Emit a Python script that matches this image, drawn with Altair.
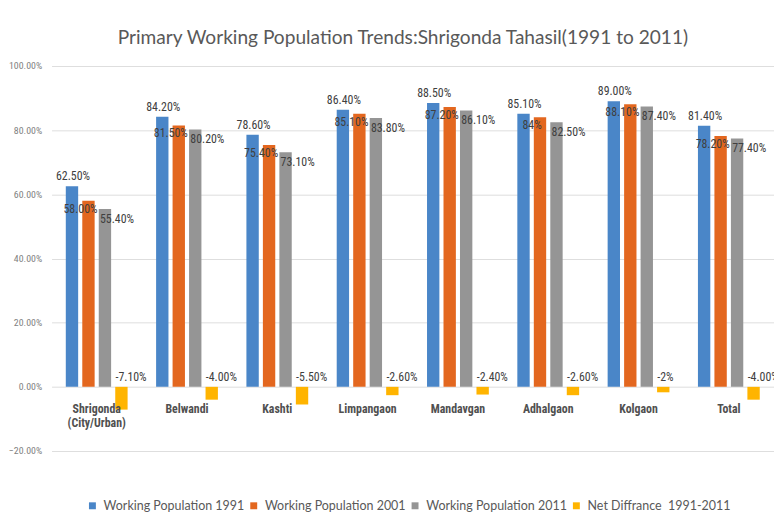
import altair as alt
import pandas as pd

categories = ["Shrigonda|(City/Urban)", "Belwandi", "Kashti", "Limpangaon",
              "Mandavgan", "Adhalgaon", "Kolgaon", "Total"]
series = ["Working Population 1991", "Working Population 2001",
          "Working Population 2011", "Net Diffrance\u00a0 1991-2011"]
colors = ["#4a86c8", "#e3671f", "#959595", "#ffb400"]

wp1991 = [62.5, 84.2, 78.6, 86.4, 88.5, 85.1, 89.0, 81.4]
wp2001 = [58.0, 81.5, 75.4, 85.1, 87.2, 84.0, 88.1, 78.2]
wp2011 = [55.4, 80.2, 73.1, 83.8, 86.1, 82.5, 87.4, 77.4]
net = [-7.1, -4.0, -5.5, -2.6, -2.4, -2.6, -1.7, -4.0]

lab1991 = ["62.50%", "84.20%", "78.60%", "86.40%", "88.50%", "85.10%", "89.00%", "81.40%"]
lab2001 = ["58.00%", "81.50%", "75.40%", "85.10%", "87.20%", "84%", "88.10%", "78.20%"]
lab2011 = ["55.40%", "80.20%", "73.10%", "83.80%", "86.10%", "82.50%", "87.40%", "77.40%"]
labnet = ["-7.10%", "-4.00%", "-5.50%", "-2.60%", "-2.40%", "-2.60%", "-2%", "-4.00%"]

rows = []
for vals, labs, s in zip([wp1991, wp2001, wp2011, net],
                         [lab1991, lab2001, lab2011, labnet], series):
    for c, v, l in zip(categories, vals, labs):
        rows.append({"cat": c, "series": s, "value": v, "label": l, "zero": 0})
df = pd.DataFrame(rows)
cat_df = pd.DataFrame({"cat": categories, "zero": [0] * len(categories)})

NARROW = "Liberation Sans Narrow, Roboto Condensed, Liberation Sans, sans-serif"

xscale = alt.Scale(paddingInner=0.27, paddingOuter=0.135)
xenc = alt.X("cat:N", sort=categories, axis=None, scale=xscale)
xoff = alt.XOffset("series:N", sort=series,
                   scale=alt.Scale(domain=series, paddingInner=0.25, paddingOuter=0.125))
yscale = alt.Scale(domain=[-20, 100], nice=False)
yaxis = alt.Axis(values=[-20, 0, 20, 40, 60, 80, 100],
                 labelExpr="format(datum.value, '.2f') + '%'",
                 domain=False, ticks=False, labelPadding=10,
                 labelFontSize=10, labelColor="#7f7f7f", labelFont=NARROW,
                 gridColor="#dedede", gridWidth=1)

def yenc(field):
    return alt.Y(f"{field}:Q", scale=yscale, title=None, axis=yaxis)

base = alt.Chart(df)

bars = base.mark_bar().encode(
    x=xenc, xOffset=xoff,
    y=yenc("value"),
    color=alt.Color("series:N", sort=series,
                    scale=alt.Scale(domain=series, range=colors),
                    legend=alt.Legend(title=None, orient="none", legendX=35, legendY=438,
                                      direction="horizontal", symbolType="square",
                                      symbolSize=49, symbolStrokeWidth=0,
                                      labelFontSize=12.6, labelColor="#595959",
                                      labelFont="Lato", columnPadding=3,
                                      labelOffset=5, labelLimit=0)),
)

def lbl(sname, **kw):
    return base.transform_filter(alt.datum.series == sname).mark_text(
        font=NARROW, fontSize=12, color="#404040", **kw)

t1991 = lbl(series[0], align="center", baseline="bottom", dy=-3, dx=1).encode(
    x=xenc, xOffset=xoff, y=yenc("value"), text="label:N")
t2001 = lbl(series[1], align="center", baseline="middle", dy=8, dx=-8).encode(
    x=xenc, xOffset=xoff, y=yenc("value"), text="label:N")
t2011 = lbl(series[2], align="left", baseline="middle", dy=10, dx=-5).encode(
    x=xenc, xOffset=xoff, y=yenc("value"), text="label:N")
tnet = lbl(series[3], align="left", baseline="bottom", dy=-3, dx=-6).encode(
    x=xenc, xOffset=xoff, y=yenc("zero"), text="label:N")

catlabels = alt.Chart(cat_df).mark_text(
    font=NARROW, fontSize=12, fontWeight="bold", color="#505050",
    baseline="top", dy=17, lineBreak="|", lineHeight=15).encode(
    x=alt.X("cat:N", sort=categories, axis=None, scale=xscale),
    y=yenc("zero"), text="cat:N")

chart = alt.layer(bars, t1991, t2001, t2011, tnet, catlabels).properties(
    width=730, height=389,
    padding={"left": 44, "top": 56, "right": 0, "bottom": 60},
    autosize=alt.AutoSizeParams(type="none"),
    title=alt.Title("Primary Working Population Trends:Shrigonda Tahasil(1991 to 2011)",
                    fontSize=19.3, font="Lato", fontWeight="normal", color="#595959",
                    offset=13, dx=-10, frame="group"),
).configure_view(stroke=None)

chart.save("out.html", embed_options={"renderer": "svg", "actions": False})
